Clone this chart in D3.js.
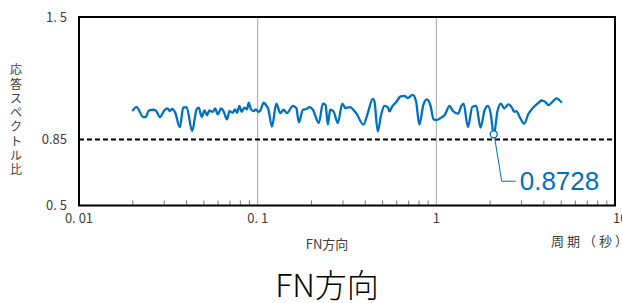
<!DOCTYPE html>
<html><head><meta charset="utf-8">
<script src="https://cdn.jsdelivr.net/npm/d3@7"></script>
<style>html,body{margin:0;padding:0;background:#fff;}svg{display:block;}</style>
</head><body>
<script>
const periods = [0.0199,0.0210,0.0229,0.0236,0.0246,0.0260,0.0269,0.0284,0.0300,0.0313,0.0322,0.0332,0.0344,0.0367,0.0383,0.0400,0.0430,0.0455,0.0468,0.0479,0.0487,0.0504,0.0521,0.0537,0.0561,0.0578,0.0598,0.0624,0.0646,0.0674,0.0695,0.0725,0.0747,0.0766,0.0790,0.0814,0.0843,0.0872,0.0891,0.0918,0.0950,0.0978,0.1009,0.1035,0.1080,0.1113,0.1148,0.1202,0.1272,0.1339,0.1397,0.1458,0.1575,0.1645,0.1701,0.1791,0.1871,0.1952,0.2037,0.2200,0.2316,0.2399,0.2470,0.2548,0.2658,0.2810,0.2974,0.3101,0.3266,0.3560,0.3910,0.4133,0.4407,0.4504,0.4700,0.4910,0.5123,0.5345,0.5463,0.5656,0.6001,0.6269,0.6626,0.6914,0.7374,0.7704,0.8035,0.8460,0.8849,0.9257,0.9659,1.000,1.066,1.113,1.187,1.240,1.322,1.380,1.421,1.503,1.589,1.673,1.768,1.861,1.945,2.021,2.095,2.200,2.299,2.399,2.535,2.648,2.728,2.810,2.909,3.102,3.278,3.451,3.680,3.895,4.064,4.240,4.504,4.700,4.910,5.038];
const ratios = [1.001,1.022,0.969,0.969,1.004,1.008,1.004,0.969,1.004,1.015,1.001,1.012,0.997,0.916,1.019,1.022,0.895,1.010,1.019,0.987,0.969,1.004,0.980,1.004,0.997,1.015,0.983,1.015,0.997,0.957,1.001,0.992,1.010,0.992,1.028,0.997,1.019,1.010,1.045,1.010,1.001,1.010,0.997,1.004,1.045,1.033,1.010,0.918,1.040,0.990,1.008,0.990,1.029,1.017,0.941,1.008,1.012,1.022,1.008,0.938,1.040,1.034,0.929,1.008,0.999,0.938,1.040,1.017,1.022,0.990,0.929,0.990,1.066,1.052,0.893,0.981,1.029,1.022,0.999,1.025,1.052,1.078,1.082,1.070,1.087,1.052,0.929,1.034,1.063,1.033,0.957,0.953,0.966,0.980,1.028,1.001,0.987,1.028,1.040,0.916,1.022,1.028,0.913,1.004,1.028,0.980,0.8728,1.001,1.040,1.015,1.036,1.019,0.997,1.001,0.975,0.934,0.987,1.015,1.040,1.057,1.050,1.033,1.054,1.068,1.057,1.045];
const yTicks = [0.5, 0.85, 1.5];
const yTickLabels = ["0. 5", "0.85", "1. 5"];
const xTicks = [0.01, 0.1, 1, 10];
const xTickLabels = ["0. 01", "0. 1", "1", "10"];
const threshold = 0.85;
const minPeriod = 2.095, minValue = 0.8728;
const minLabel = "0.8728";
const yTitle = "応答スペクトル比";
const xTitle = "FN方向";
const unitTitle = "周期（秒）";
const mainTitle = "FN方向";

const W = 622, H = 303;
const L = 79, R = 615, T = 17, B = 205.5;
const svg = d3.select("body").append("svg").attr("width", W).attr("height", H);
const x = d3.scaleLog().domain([0.01, 10]).range([L, R]);
const y = d3.scaleLinear().domain([0.5, 1.5]).range([B, T]);
const blue = "#0070C0";
const font = "'Noto Sans CJK JP', 'Noto Sans', sans-serif";

// gridlines at 0.1 and 1
svg.append("g").selectAll("line").data([0.1, 1]).join("line")
  .attr("x1", d => x(d)).attr("x2", d => x(d)).attr("y1", T).attr("y2", B)
  .attr("stroke", "#a6a6a6").attr("stroke-width", 1);

// minor ticks on bottom (inside)
const minors = [];
[0.01, 0.1, 1].forEach(b => { for (let k = 2; k <= 9; k++) minors.push(b * k); });
svg.append("g").selectAll("line").data(minors).join("line")
  .attr("x1", d => x(d)).attr("x2", d => x(d)).attr("y1", B).attr("y2", B - 5)
  .attr("stroke", "#777").attr("stroke-width", 1);

// threshold dashed line
svg.append("line").attr("x1", L).attr("x2", R).attr("y1", y(threshold)).attr("y2", y(threshold))
  .attr("stroke", "#000").attr("stroke-width", 2).attr("stroke-dasharray", "5,3");

// data line
const data = periods.map((p, i) => [p, ratios[i]]);
svg.append("path").datum(data)
  .attr("fill", "none").attr("stroke", blue).attr("stroke-width", 2.3)
  .attr("stroke-linejoin", "round")
  .attr("d", d3.line().x(d => x(d[0])).y(d => y(d[1])).curve(d3.curveMonotoneX));

// frame
svg.append("rect").attr("x", L).attr("y", T).attr("width", R - L).attr("height", B - T)
  .attr("fill", "none").attr("stroke", "#000").attr("stroke-width", 2);

// min marker + callout
const mx = x(minPeriod), my = y(minValue);
svg.append("polyline")
  .attr("points", [[mx + 1, my + 3], [mx + 8, my + 46], [mx + 22, my + 46]].map(p => p.join(",")).join(" "))
  .attr("fill", "none").attr("stroke", blue).attr("stroke-width", 1);
svg.append("circle").attr("cx", mx).attr("cy", my - 1).attr("r", 3.5)
  .attr("fill", "#fff").attr("stroke", blue).attr("stroke-width", 1.3);
svg.append("text").attr("x", mx + 26).attr("y", my + 55)
  .attr("font-family", "'Liberation Sans', Arial, sans-serif").attr("font-size", 26)
  .attr("fill", blue).text(minLabel);

// y tick labels
svg.append("g").selectAll("text").data(yTicks).join("text")
  .attr("x", 67).attr("y", d => y(d)).attr("dy", "0.35em").attr("text-anchor", "end")
  .attr("font-family", font).attr("font-size", 13).attr("fill", "#404040")
  .text((d, i) => yTickLabels[i]);

// x tick labels
svg.append("g").selectAll("text").data(xTicks).join("text")
  .attr("x", d => x(d)).attr("y", 218).attr("dy", "0.35em").attr("text-anchor", d => d === 10 ? "start" : "middle")
  .attr("dx", d => d === 10 ? -2 : 0)
  .attr("font-family", font).attr("font-size", 13).attr("fill", "#404040")
  .text((d, i) => xTickLabels[i]);

// y title stacked vertically
svg.append("g").selectAll("text").data(Array.from(yTitle)).join("text")
  .attr("x", 16).attr("y", (d, i) => 70 + i * 14.3).attr("dy", "0.35em").attr("text-anchor", "middle")
  .attr("font-family", font).attr("font-size", 12).attr("fill", "#404040")
  .text(d => d);

// x title
svg.append("text").attr("x", 327).attr("y", 244).attr("dy", "0.35em").attr("text-anchor", "middle")
  .attr("font-family", font).attr("font-size", 13).attr("fill", "#404040").text(xTitle);
svg.append("text").attr("x", 551).attr("y", 241).attr("dy", "0.35em")
  .attr("font-family", font).attr("font-size", 13).attr("fill", "#404040")
  .attr("letter-spacing", 3).text(unitTitle);

// main title
svg.append("text").attr("x", 327).attr("y", 286).attr("dy", "0.35em").attr("text-anchor", "middle")
  .attr("font-family", font).attr("font-size", 32).attr("font-weight", 300).attr("fill", "#000").text(mainTitle);
</script>
</body></html>
